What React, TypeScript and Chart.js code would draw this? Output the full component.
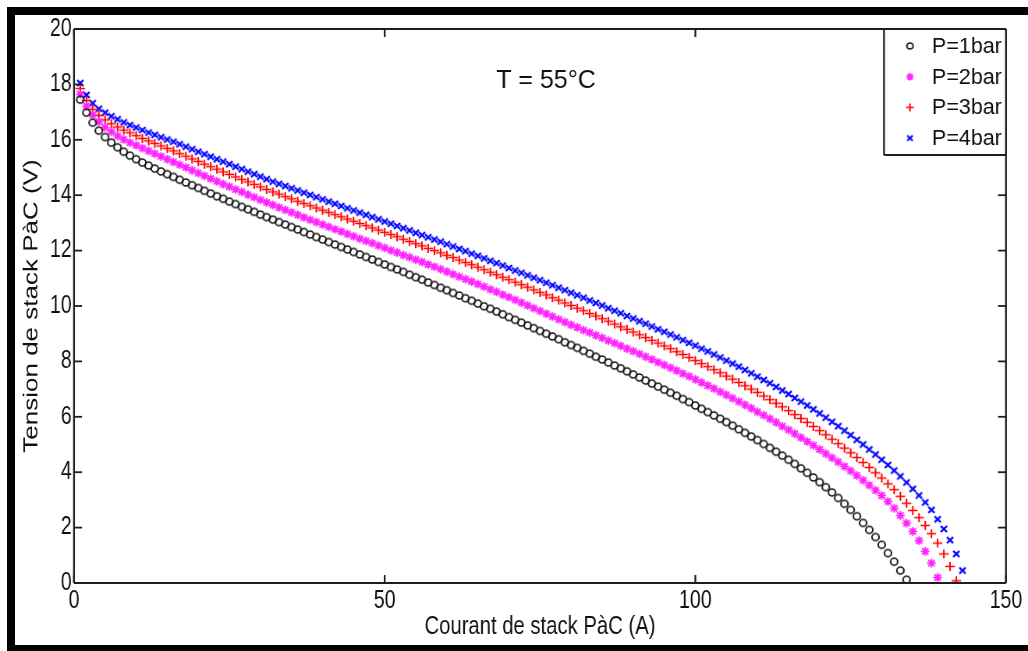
import React, { useEffect, useRef } from 'react';
import { Chart, registerables } from 'chart.js';

Chart.register(...registerables);

// ---------------- data ----------------
const CURRENT = [
  1, 2, 3, 4, 5, 6, 7, 8, 9, 10, 11, 12, 13, 14, 15, 16, 17, 18, 19, 20,
  21, 22, 23, 24, 25, 26, 27, 28, 29, 30, 31, 32, 33, 34, 35, 36, 37, 38, 39, 40,
  41, 42, 43, 44, 45, 46, 47, 48, 49, 50, 51, 52, 53, 54, 55, 56, 57, 58, 59, 60,
  61, 62, 63, 64, 65, 66, 67, 68, 69, 70, 71, 72, 73, 74, 75, 76, 77, 78, 79, 80,
  81, 82, 83, 84, 85, 86, 87, 88, 89, 90, 91, 92, 93, 94, 95, 96, 97, 98, 99, 100,
  101, 102, 103, 104, 105, 106, 107, 108, 109, 110, 111, 112, 113, 114, 115, 116, 117, 118, 119, 120,
  121, 122, 123, 124, 125, 126, 127, 128, 129, 130, 131, 132, 133, 134, 135, 136, 137, 138, 139, 140,
  141, 142, 143,
];

const V_P1 = [
  17.45, 16.98, 16.62, 16.33, 16.1, 15.9, 15.73, 15.57, 15.43, 15.3,
  15.18, 15.07, 14.96, 14.86, 14.76, 14.66, 14.56, 14.46, 14.36, 14.26,
  14.16, 14.06, 13.96, 13.87, 13.77, 13.68, 13.58, 13.49, 13.4, 13.3,
  13.21, 13.12, 13.03, 12.94, 12.85, 12.76, 12.67, 12.58, 12.49, 12.4,
  12.31, 12.22, 12.13, 12.04, 11.95, 11.86, 11.77, 11.68, 11.59, 11.5,
  11.41, 11.32, 11.23, 11.13, 11.04, 10.95, 10.85, 10.76, 10.66, 10.57,
  10.47, 10.38, 10.28, 10.19, 10.09, 9.99, 9.9, 9.8, 9.7, 9.6,
  9.5, 9.4, 9.3, 9.2, 9.1, 9.0, 8.9, 8.8, 8.69, 8.59,
  8.49, 8.38, 8.28, 8.17, 8.07, 7.96, 7.85, 7.75, 7.64, 7.53,
  7.42, 7.31, 7.2, 7.09, 6.98, 6.87, 6.76, 6.64, 6.53, 6.41,
  6.29, 6.17, 6.05, 5.93, 5.81, 5.68, 5.55, 5.42, 5.29, 5.16,
  5.02, 4.88, 4.74, 4.6, 4.45, 4.3, 4.14, 3.98, 3.81, 3.64,
  3.46, 3.27, 3.07, 2.86, 2.64, 2.41, 2.17, 1.92, 1.66, 1.38,
  1.08, 0.77, 0.45, 0.12,
];

const V_P2 = [
  17.65, 17.22, 16.9, 16.65, 16.45, 16.29, 16.14, 16.01, 15.9, 15.8,
  15.7, 15.6, 15.5, 15.4, 15.3, 15.2, 15.1, 15.0, 14.9, 14.8,
  14.7, 14.6, 14.5, 14.4, 14.31, 14.21, 14.12, 14.02, 13.93, 13.83,
  13.74, 13.65, 13.56, 13.47, 13.38, 13.29, 13.2, 13.11, 13.03, 12.94,
  12.86, 12.77, 12.69, 12.6, 12.52, 12.43, 12.35, 12.27, 12.18, 12.1,
  12.01, 11.93, 11.84, 11.76, 11.67, 11.59, 11.5, 11.42, 11.33, 11.24,
  11.15, 11.06, 10.97, 10.88, 10.79, 10.7, 10.6, 10.51, 10.41, 10.32,
  10.22, 10.12, 10.02, 9.92, 9.82, 9.72, 9.62, 9.52, 9.42, 9.32,
  9.23, 9.13, 9.04, 8.94, 8.85, 8.75, 8.66, 8.56, 8.46, 8.37,
  8.27, 8.17, 8.07, 7.97, 7.87, 7.77, 7.67, 7.56, 7.46, 7.35,
  7.24, 7.13, 7.02, 6.9, 6.79, 6.67, 6.55, 6.43, 6.31, 6.18,
  6.06, 5.93, 5.8, 5.66, 5.53, 5.39, 5.25, 5.11, 4.97, 4.82,
  4.67, 4.52, 4.37, 4.21, 4.05, 3.88, 3.71, 3.53, 3.35, 3.16,
  2.94, 2.7, 2.44, 2.16, 1.86, 1.53, 1.14, 0.72, 0.2,
];

const V_P3 = [
  17.85, 17.42, 17.1, 16.88, 16.72, 16.58, 16.46, 16.35, 16.25, 16.15,
  16.05, 15.96, 15.87, 15.78, 15.69, 15.6, 15.5, 15.41, 15.31, 15.22,
  15.12, 15.03, 14.94, 14.84, 14.75, 14.66, 14.57, 14.48, 14.39, 14.3,
  14.21, 14.12, 14.04, 13.95, 13.87, 13.78, 13.7, 13.62, 13.54, 13.46,
  13.38, 13.3, 13.22, 13.14, 13.06, 12.98, 12.9, 12.82, 12.74, 12.66,
  12.58, 12.5, 12.41, 12.33, 12.25, 12.17, 12.08, 12.0, 11.92, 11.83,
  11.75, 11.66, 11.57, 11.49, 11.4, 11.31, 11.22, 11.13, 11.04, 10.95,
  10.86, 10.77, 10.68, 10.58, 10.49, 10.4, 10.3, 10.21, 10.11, 10.02,
  9.92, 9.83, 9.73, 9.64, 9.54, 9.45, 9.35, 9.25, 9.16, 9.06,
  8.96, 8.86, 8.76, 8.66, 8.56, 8.46, 8.35, 8.25, 8.14, 8.03,
  7.92, 7.81, 7.7, 7.59, 7.47, 7.36, 7.24, 7.12, 7.0, 6.88,
  6.75, 6.62, 6.49, 6.36, 6.22, 6.08, 5.94, 5.8, 5.65, 5.5,
  5.35, 5.19, 5.03, 4.87, 4.7, 4.53, 4.35, 4.17, 3.98, 3.79,
  3.58, 3.37, 3.13, 2.88, 2.62, 2.36, 2.08, 1.78, 1.44, 1.05,
  0.6, 0.08,
];

const V_P4 = [
  18.05, 17.62, 17.32, 17.12, 16.98, 16.85, 16.74, 16.63, 16.53, 16.44,
  16.35, 16.26, 16.18, 16.09, 16.01, 15.93, 15.84, 15.75, 15.66, 15.57,
  15.48, 15.39, 15.3, 15.21, 15.12, 15.03, 14.94, 14.85, 14.76, 14.67,
  14.58, 14.49, 14.41, 14.33, 14.25, 14.17, 14.09, 14.01, 13.93, 13.85,
  13.77, 13.69, 13.61, 13.53, 13.45, 13.37, 13.29, 13.21, 13.13, 13.05,
  12.97, 12.89, 12.81, 12.73, 12.64, 12.56, 12.48, 12.4, 12.32, 12.23,
  12.15, 12.06, 11.98, 11.89, 11.81, 11.72, 11.63, 11.55, 11.46, 11.37,
  11.28, 11.2, 11.11, 11.02, 10.93, 10.84, 10.75, 10.66, 10.57, 10.48,
  10.39, 10.3, 10.2, 10.11, 10.02, 9.92, 9.83, 9.74, 9.64, 9.55,
  9.45, 9.36, 9.26, 9.16, 9.07, 8.97, 8.87, 8.77, 8.67, 8.57,
  8.46, 8.36, 8.25, 8.14, 8.03, 7.92, 7.81, 7.69, 7.57, 7.45,
  7.33, 7.21, 7.08, 6.95, 6.82, 6.68, 6.55, 6.41, 6.27, 6.12,
  5.97, 5.82, 5.66, 5.5, 5.34, 5.17, 5.0, 4.82, 4.64, 4.45,
  4.26, 4.06, 3.85, 3.63, 3.4, 3.16, 2.91, 2.64, 2.3, 1.95,
  1.55, 1.05, 0.45,
];

const SERIES_LABELS = ['P=1bar', 'P=2bar', 'P=3bar', 'P=4bar'];
const SERIES_VALUES = [V_P1, V_P2, V_P3, V_P4];
const X_TICKS = [0, 50, 100, 150];
const Y_TICKS = [0, 2, 4, 6, 8, 10, 12, 14, 16, 18, 20];
const ANNOTATION = 'T = 55°C';
const X_TITLE = 'Courant de stack PàC (A)';
const Y_TITLE = 'Tension de stack PàC (V)';

// ---------------- styles / layout ----------------
const S = 0.78; // horizontal squeeze of the original picture (axis texts)
const VIEW_W = 1028;
const VIEW_H = 651;
const CW = Math.round(VIEW_W / S);
const sx = (d: number) => d / S;
const FONT = "'Liberation Sans', Arial, Helvetica, sans-serif";
const INK = '#111111';
const AXIS_INK = '#1e1e1e';

type MarkStyle = { kind: string; color: string; r: number; lw: number };
const MARKS: MarkStyle[] = [
  { kind: 'circle', color: '#1a1a1a', r: 3.5, lw: 1.6 },
  { kind: 'star', color: '#ff22ff', r: 4.3, lw: 1.7 },
  { kind: 'cross', color: '#ff0000', r: 4.6, lw: 1.5 },
  { kind: 'crossRot', color: '#0000ff', r: 3.0, lw: 1.8 },
];

// draws a marker in "display" pixels; caller handles squeeze compensation
function strokeMarker(g: CanvasRenderingContext2D, m: MarkStyle, x: number, y: number, k = 1) {
  const r = m.r * k;
  g.save();
  g.strokeStyle = m.color;
  g.lineWidth = m.lw;
  g.lineCap = 'butt';
  g.beginPath();
  if (m.kind === 'circle') {
    g.arc(x, y, r, 0, Math.PI * 2);
  } else {
    if (m.kind === 'cross' || m.kind === 'star') {
      g.moveTo(x - r, y); g.lineTo(x + r, y);
      g.moveTo(x, y - r); g.lineTo(x, y + r);
    }
    if (m.kind === 'crossRot' || m.kind === 'star') {
      const q = m.kind === 'star' ? r * Math.SQRT1_2 : r;
      g.moveTo(x - q, y - q); g.lineTo(x + q, y + q);
      g.moveTo(x - q, y + q); g.lineTo(x + q, y - q);
    }
  }
  g.stroke();
  g.restore();
}

// marker image pre-stretched horizontally so it looks right after the squeeze
function markerImage(m: MarkStyle, k = 1): HTMLCanvasElement {
  const size = Math.ceil(2 * m.r * k + m.lw + 4);
  const c = document.createElement('canvas');
  c.width = Math.ceil(size / S);
  c.height = size;
  const g = c.getContext('2d') as CanvasRenderingContext2D;
  g.scale(c.width / size, 1);
  strokeMarker(g, m, size / 2, size / 2, k);
  return c;
}

function unsqueezedText(ctx: CanvasRenderingContext2D, text: string, x: number, y: number) {
  ctx.save();
  ctx.translate(x, y);
  ctx.scale(1 / S, 1);
  ctx.fillText(text, 0, 0);
  ctx.restore();
}

const makeFramePlugin = (legendImgs: HTMLCanvasElement[]) => ({
  id: 'matlabFrame',
  afterDatasetsDraw(chart: any) {
    const { ctx, chartArea: a, scales } = chart;
    ctx.save();
    ctx.strokeStyle = AXIS_INK;
    const hLine = (x1: number, y: number, x2: number) => {
      ctx.lineWidth = 1.8;
      ctx.beginPath(); ctx.moveTo(x1, y); ctx.lineTo(x2, y); ctx.stroke();
    };
    const vLine = (x: number, y1: number, y2: number) => {
      ctx.lineWidth = 1.8 / S;
      ctx.beginPath(); ctx.moveTo(x, y1); ctx.lineTo(x, y2); ctx.stroke();
    };
    for (const v of X_TICKS) {
      const px = scales.x.getPixelForValue(v);
      vLine(px, a.bottom, a.bottom - 8);
      vLine(px, a.top, a.top + 8);
    }
    for (const v of Y_TICKS) {
      const py = scales.y.getPixelForValue(v);
      hLine(a.left, py, a.left + sx(8));
      hLine(a.right, py, a.right - sx(8));
    }
    hLine(a.left, a.top, a.right);
    hLine(a.left, a.bottom, a.right);
    vLine(a.left, a.top, a.bottom);
    vLine(a.right, a.top, a.bottom);
    ctx.restore();
  },
  afterDraw(chart: any) {
    const { ctx, chartArea: a } = chart;
    ctx.save();
    // annotation
    ctx.fillStyle = INK;
    ctx.font = `25px ${FONT}`;
    ctx.textAlign = 'center';
    ctx.textBaseline = 'middle';
    unsqueezedText(ctx, ANNOTATION, sx(546), 81);

    // legend box
    const lx = sx(884);
    const ly = a.top;
    const lw = a.right - lx;
    const lh = 155 - a.top;
    ctx.fillStyle = '#ffffff';
    ctx.fillRect(lx, ly, lw, lh);
    ctx.strokeStyle = AXIS_INK;
    ctx.lineWidth = 1.8;
    ctx.beginPath(); ctx.moveTo(lx, ly); ctx.lineTo(lx + lw, ly); ctx.stroke();
    ctx.beginPath(); ctx.moveTo(lx, ly + lh); ctx.lineTo(lx + lw, ly + lh); ctx.stroke();
    ctx.lineWidth = 1.8 / S;
    ctx.beginPath(); ctx.moveTo(lx, ly); ctx.lineTo(lx, ly + lh); ctx.stroke();
    ctx.beginPath(); ctx.moveTo(lx + lw, ly); ctx.lineTo(lx + lw, ly + lh); ctx.stroke();

    ctx.font = `21.5px ${FONT}`;
    ctx.textAlign = 'left';
    ctx.textBaseline = 'middle';
    SERIES_LABELS.forEach((lab, i) => {
      const y = 46 + i * 30.7;
      const img = legendImgs[i];
      ctx.drawImage(img, sx(910) - img.width / 2, y - img.height / 2);
      ctx.fillStyle = INK;
      unsqueezedText(ctx, lab, sx(932), y + 1);
    });
    ctx.restore();
  },
});

export default function App() {
  const ref = useRef<HTMLCanvasElement | null>(null);

  useEffect(() => {
    document.body.style.margin = '0';
    const canvas = ref.current;
    if (!canvas) return;
    const plotImgs = MARKS.map((m) => markerImage(m));
    const legendImgs = MARKS.map((m) => markerImage(m, 0.85));
    const datasets = SERIES_VALUES.map((vals, i) => ({
      label: SERIES_LABELS[i],
      data: vals.map((v, k) => ({ x: CURRENT[k], y: v })),
      showLine: false,
      pointStyle: plotImgs[i],
      pointRadius: MARKS[i].r,
      borderColor: MARKS[i].color,
      backgroundColor: MARKS[i].color,
    }));

    const chart = new Chart(canvas, {
      type: 'scatter',
      data: { datasets },
      plugins: [makeFramePlugin(legendImgs)],
      options: {
        responsive: false,
        animation: false,
        devicePixelRatio: 1,
        events: [],
        layout: { padding: { top: 29, right: CW - sx(1006), bottom: 0, left: 0 } },
        plugins: {
          legend: { display: false },
          tooltip: { enabled: false },
          title: { display: false },
        },
        scales: {
          x: {
            type: 'linear',
            min: 0,
            max: 150,
            afterBuildTicks: (s: any) => { s.ticks = X_TICKS.map((v) => ({ value: v })); },
            afterFit: (s: any) => { s.height = VIEW_H - 583; },
            grid: { display: false, drawTicks: false },
            border: { display: false },
            ticks: { font: { family: FONT, size: 25 }, color: INK, padding: 3, maxRotation: 0, autoSkip: false },
            title: { display: true, text: X_TITLE, color: INK, font: { family: FONT, size: 26 }, padding: { top: 0, bottom: 9 } },
          },
          y: {
            type: 'linear',
            min: 0,
            max: 20,
            afterBuildTicks: (s: any) => { s.ticks = Y_TICKS.map((v) => ({ value: v })); },
            afterFit: (s: any) => { s.width = sx(74); },
            grid: { display: false, drawTicks: false },
            border: { display: false },
            ticks: { font: { family: FONT, size: 25 }, color: INK, padding: 3, autoSkip: false },
            title: { display: true, text: Y_TITLE, color: INK, font: { family: FONT, size: 26 }, padding: { top: 25, bottom: 0 } },
          },
        },
      } as any,
    });
    return () => chart.destroy();
  }, []);

  return (
    <div style={{ position: 'fixed', left: 0, top: 0, width: VIEW_W, height: VIEW_H, overflow: 'hidden', background: '#ffffff' }}>
      <canvas
        ref={ref}
        width={CW}
        height={VIEW_H}
        style={{ position: 'absolute', left: 0, top: 0, width: `${VIEW_W}px`, height: `${VIEW_H}px` }}
      />
      <div
        style={{
          position: 'absolute', left: 7, top: 7, width: 1200, height: VIEW_H - 7,
          borderTop: '8px solid #000', borderLeft: '8px solid #000', borderBottom: '6px solid #000',
          boxSizing: 'border-box', pointerEvents: 'none',
        }}
      />
    </div>
  );
}
